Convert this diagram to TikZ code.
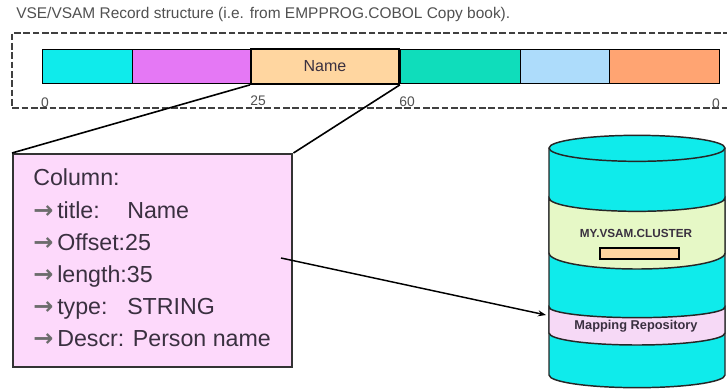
\documentclass[tikz,border=0pt]{standalone}
\usepackage{fontspec}
\usetikzlibrary{arrows.meta}
\setmainfont{Liberation Sans}
\newfontfamily\arrowfont{DejaVu Sans}
\definecolor{cyanfill}{HTML}{0FEBEB}
\definecolor{violetfill}{HTML}{E578F5}
\definecolor{peachfill}{HTML}{FFD6A0}
\definecolor{tealfill}{HTML}{0FDDBB}
\definecolor{skyfill}{HTML}{ADDCFB}
\definecolor{orangefill}{HTML}{FFA472}
\definecolor{pinkfill}{HTML}{FDD9FB}
\definecolor{greenfill}{HTML}{E6F8C6}
\definecolor{bandpink}{HTML}{F6D9F6}
\definecolor{greytext}{HTML}{505050}
\definecolor{boxtext}{HTML}{3A3040}
\newcommand{\rowkey}[1]{\makebox[52.5pt][l]{#1}}
\tikzset{
  cell/.style={draw=black,line width=1.1pt,inner sep=0pt,anchor=north west,minimum height=25.5pt},
  ticklabel/.style={font=\fontsize{10.4}{12}\selectfont,text=greytext,inner sep=0pt},
  rowlabel/.style={font=\fontsize{17.4}{20}\selectfont,text=boxtext,inner sep=0pt,anchor=base west},
  rowarrow/.style={font=\arrowfont\bfseries\fontsize{18}{20}\selectfont,text=gray!85!black,inner sep=0pt,anchor=base west},
  cylline/.style={draw=black!85,line width=1.1pt},
  cyllabel/.style={text=boxtext,inner sep=0pt}
}
\begin{document}
\begin{tikzpicture}[x=0.75pt,y=-0.75pt]
\useasboundingbox (0,0) rectangle (727,389);
% title
\node[font=\fontsize{11.6}{14}\selectfont,text=greytext,inner sep=0pt,anchor=west] (title) at (16,15) {VSE/VSAM Record structure (i.e. from EMPPROG.COBOL Copy book).};
% dashed frame
\draw[line width=1.2pt,draw=black!75,dash pattern=on 5pt off 2pt] (730,33) -- (12,33) -- (12,108) -- (730,108);
% record bar
\node[cell,fill=cyanfill,minimum width=67.5pt] (c1) at (42,49) {};
\node[cell,fill=violetfill,minimum width=88.5pt] (c2) at (132,49) {};
\node[cell,fill=tealfill,minimum width=90pt] (c4) at (400,49) {};
\node[cell,fill=skyfill,minimum width=66.75pt] (c5) at (520,49) {};
\node[cell,fill=orangefill,minimum width=82.5pt] (c6) at (609,49) {};
\node[cell,fill=peachfill,minimum width=111pt,minimum height=26.25pt,line width=1.4pt,font=\fontsize{12}{14}\selectfont,text=boxtext] (name) at (250,48) {Name};
% offsets
\node[ticklabel] (t0) at (45,103) {0};
\node[ticklabel] (t25) at (258,101) {25};
\node[ticklabel] (t60) at (407,102) {60};
\node[ticklabel] (tend) at (716,104) {0};
% column box
\node[draw=black!80,line width=1.6pt,fill=pinkfill,inner sep=0pt,anchor=north west,minimum width=209.5pt,minimum height=160pt] (colbox) at (12,153) {};
\draw[line width=1.2pt] (name.south west) -- (colbox.north west);
\draw[line width=1.2pt] (name.south east) -- (colbox.north east);
\node[rowlabel] (r0) at (33,185) {Column:};
\node[rowarrow] (a1) at (33,218) {→};
\node[rowlabel] (r1) at (57,218) {\rowkey{title:}Name};
\node[rowarrow] (a2) at (33,250) {→};
\node[rowlabel] (r2) at (57,250) {Offset:25};
\node[rowarrow] (a3) at (33,282) {→};
\node[rowlabel] (r3) at (57,282) {length:35};
\node[rowarrow] (a4) at (33,314) {→};
\node[rowlabel] (r4) at (57,314) {\rowkey{type:}STRING};
\node[rowarrow] (a5) at (33,346) {→};
\node[rowlabel] (r5) at (57,346) {Descr: Person name};
% cylinder
\path[fill=cyanfill,cylline] (549,148) -- (549,375) arc[start angle=180,end angle=360,x radius=66pt,y radius=9.5pt] -- (725,148) arc[start angle=0,end angle=180,x radius=66pt,y radius=9.5pt] -- cycle;
\path[cylline] (549,148) arc[start angle=180,end angle=360,x radius=66pt,y radius=10pt];
\path[fill=greenfill,cylline] (549,198) arc[start angle=180,end angle=360,x radius=66pt,y radius=10pt] -- (725,253) arc[start angle=0,end angle=-180,x radius=66pt,y radius=12pt] -- cycle;
\path[fill=bandpink,cylline] (549,307) arc[start angle=180,end angle=360,x radius=66pt,y radius=8pt] -- (725,333) arc[start angle=0,end angle=-180,x radius=66pt,y radius=9pt] -- cycle;
\node[cyllabel,font=\bfseries\fontsize{8.8}{10}\selectfont] (cluster) at (636,233) {MY.VSAM.CLUSTER};
\node[draw=black,line width=1.1pt,fill=peachfill,inner sep=0pt,minimum width=59pt,minimum height=8pt] (slot) at (639.5,253.5) {};
\node[cyllabel,font=\bfseries\fontsize{9.6}{11}\selectfont] (mapping) at (636,326) {Mapping Repository};
% connector
\coordinate (from) at (281,258);
\coordinate (to) at (546,315);
\draw[line width=1.1pt,-{Stealth[length=6pt,width=4.5pt]}] (from) -- (to);
\end{tikzpicture}
\end{document}
